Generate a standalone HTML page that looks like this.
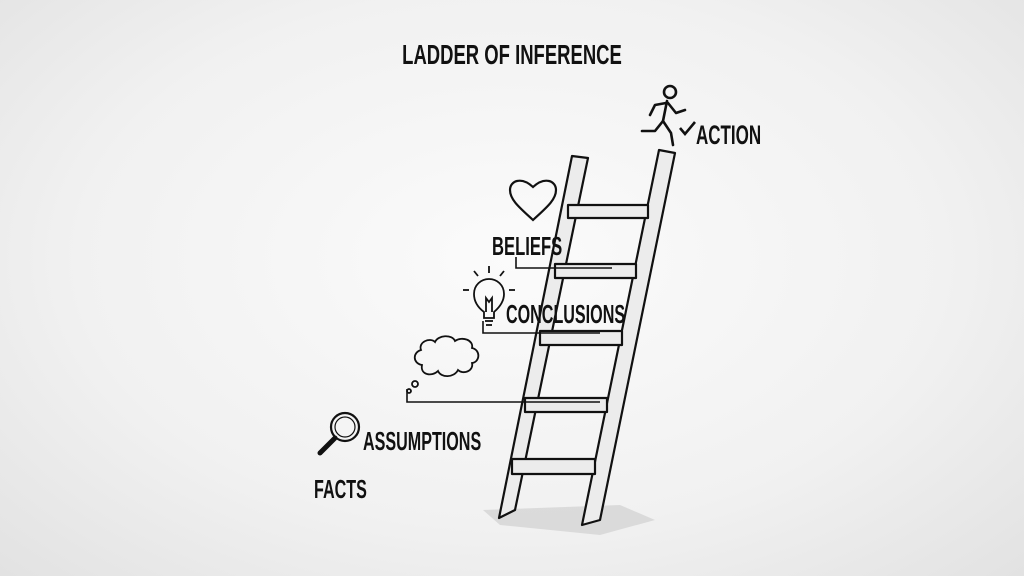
<!DOCTYPE html>
<html><head><style>
html,body{margin:0;padding:0;}
body{width:1024px;height:576px;overflow:hidden;background:radial-gradient(ellipse at 50% 45%,#fbfbfb 0%,#f1f1f1 60%,#e2e2e2 100%);}
svg{position:absolute;left:0;top:0;}
text{font-family:"Liberation Sans",sans-serif;font-weight:bold;fill:#111;}
</style></head><body>
<svg width="1024" height="576" viewBox="0 0 1024 576">
<g transform="translate(512,64) scale(0.66,1)"><text x="0" y="0" font-size="28" text-anchor="middle">LADDER OF INFERENCE</text></g>
<polygon points="483,510 620,505 655,520 600,535 500,525" fill="#d4d4d4" opacity="0.8"/>
<g stroke="#111" stroke-width="2.2" fill="#ececec" stroke-linejoin="round">
<polygon points="572,156 588,158 515,510 499,518"/>
<polygon points="659,150 675,153 600,520 582,525"/>
<rect x="568" y="205" width="80" height="13"/>
<rect x="555" y="264" width="81" height="14"/>
<rect x="540" y="331" width="82" height="14"/>
<rect x="525" y="398" width="82" height="14"/>
<rect x="512" y="459" width="83" height="15"/>
</g>
<g stroke="#111" stroke-width="1.6" fill="none">
<polyline points="516,257 516,268 612,268"/>
<polyline points="483,321 483,333 600,333"/>
<polyline points="407,389 407,402 600,402"/>
</g>
<path d="M533,220 C520,208 510,200 510,190 C510,181 521,176 533,187 C545,176 556,181 556,190 C556,200 546,208 533,220 Z" fill="none" stroke="#111" stroke-width="2.2"/>
<g transform="translate(492,255) scale(0.64,1)"><text x="0" y="0" font-size="26">BELIEFS</text></g>
<g stroke="#111" stroke-width="1.8" fill="none">
<path d="M484,318 L484,312 C476,306 474,300 474,294 C474,285 481,279 489,279 C497,279 504,285 504,294 C504,300 501,306 494,312 L494,318 Z"/>
<line x1="485" y1="321" x2="493" y2="321"/><line x1="486" y1="325" x2="492" y2="325"/>
<path d="M486,312 L486,298 L489,302 L492,298 L492,312"/>
<line x1="489" y1="266" x2="489" y2="273"/><line x1="474" y1="271" x2="478" y2="276"/><line x1="504" y1="271" x2="500" y2="276"/>
<line x1="463" y1="290" x2="469" y2="290"/><line x1="509" y1="290" x2="515" y2="290"/>
</g>
<g transform="translate(506,323) scale(0.62,1)"><text x="0" y="0" font-size="26">CONCLUSIONS</text></g>
<g stroke="#111" stroke-width="1.8" fill="none">
<path d="M422,365 C412,363 413,352 421,350 C418,342 430,337 435,342 C438,335 452,334 455,341 C462,336 474,340 472,348 C481,350 480,362 472,363 C474,371 463,375 458,370 C454,378 441,378 438,371 C432,377 420,375 422,365 Z"/>
<circle cx="415" cy="384" r="3"/><circle cx="409" cy="391" r="2"/>
</g>
<g stroke="#111" stroke-width="2.2" fill="none">
<circle cx="345" cy="427" r="14"/><circle cx="345" cy="427" r="10" stroke-width="1.2"/>
<path d="M335,438 L320,453" stroke-width="5" stroke-linecap="round"/>
</g>
<g transform="translate(363,450) scale(0.62,1)"><text x="0" y="0" font-size="26">ASSUMPTIONS</text></g>
<g transform="translate(314,498) scale(0.62,1)"><text x="0" y="0" font-size="26">FACTS</text></g>
<g stroke="#111" stroke-width="2.6" fill="none" stroke-linecap="round" stroke-linejoin="round">
<circle cx="670" cy="92" r="6"/>
<path d="M667,101 L663,121 L671,133 L673,145"/>
<path d="M663,121 L655,131 L642,131"/>
<path d="M666,103 L655,105 L650,115"/>
<path d="M668,103 L676,113 L685,110"/>
</g>
<path d="M680,128 L685,134 L695,122" stroke="#111" stroke-width="2.6" fill="none"/>
<g transform="translate(696,144) scale(0.63,1)"><text x="0" y="0" font-size="27">ACTION</text></g>
</svg>
</body></html>
